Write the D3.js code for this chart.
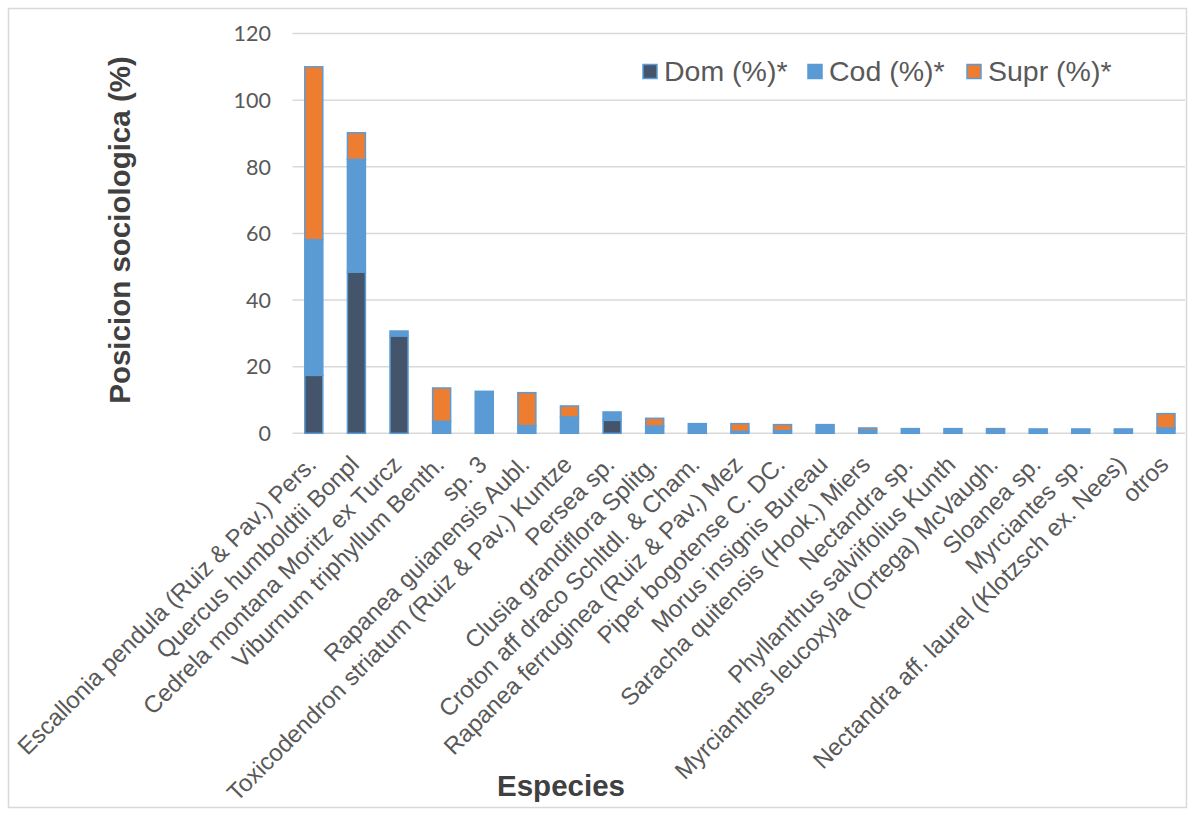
<!DOCTYPE html>
<html><head><meta charset="utf-8">
<script src="https://cdn.jsdelivr.net/npm/d3@7"></script>
<style>html,body{margin:0;padding:0;background:#fff;}</style>
</head><body>
<svg id="chart" width="1195" height="816"></svg>
<script>
const categories = [
  "Escallonia pendula (Ruiz & Pav.) Pers.",
  "Quercus humboldtii Bonpl",
  "Cedrela montana Moritz ex Turcz",
  "Viburnum triphyllum Benth.",
  "sp. 3",
  "Rapanea guianensis Aubl.",
  "Toxicodendron striatum (Ruiz & Pav.) Kuntze",
  "Persea sp.",
  "Clusia grandiflora Splitg.",
  "Croton aff draco Schltdl. & Cham.",
  "Rapanea ferruginea (Ruiz & Pav.) Mez",
  "Piper bogotense C. DC.",
  "Morus insignis Bureau",
  "Saracha quitensis (Hook.) Miers",
  "Nectandra sp.",
  "Phyllanthus salviifolius Kunth",
  "Myrcianthes leucoxyla (Ortega) McVaugh.",
  "Sloanea sp.",
  "Myrciantes sp.",
  "Nectandra aff. laurel (Klotzsch ex. Nees)",
  "otros"
];
const dom  = [17.4, 48.4, 29.2, 0, 0, 0, 0, 3.9, 0, 0, 0, 0, 0, 0, 0, 0, 0, 0, 0, 0, 0];
const cod  = [40.7, 33.8, 1.5, 3.6, 12.6, 2.3, 4.9, 2.5, 2.2, 2.9, 0.6, 0.8, 2.6, 0.9, 1.4, 1.4, 0.9, 1.3, 0.9, 0.9, 1.6];
const supr = [51.9, 8.0, 0, 10.0, 0, 9.9, 3.3, 0, 2.3, 0, 2.3, 1.8, 0, 0.7, 0, 0, 0.5, 0, 0.4, 0.4, 4.3];
const seriesNames = ["Dom (%)*", "Cod (%)*", "Supr (%)*"];
const seriesColors = ["#44546A", "#5B9BD5", "#ED7D31"];
const yTicks = [0, 20, 40, 60, 80, 100, 120];

const svg = d3.select("#chart");
// chart border
svg.append("rect").attr("x", 8.5).attr("y", 8.5).attr("width", 1178).attr("height", 799)
  .attr("fill", "none").attr("stroke", "#D9D9D9").attr("stroke-width", 1.5);

const pLeft = 292.5, pRight = 1187.3, pTop = 33.5, pBottom = 433.3;
const x = d3.scaleBand().domain(categories).range([pLeft, pRight]).padding(0);
const y = d3.scaleLinear().domain([0, 120]).range([pBottom, pTop]);

// gridlines
svg.append("g").selectAll("line").data(yTicks).join("line")
  .attr("x1", pLeft).attr("x2", 1185)
  .attr("y1", d => y(d)).attr("y2", d => y(d))
  .attr("stroke", "#D9D9D9").attr("stroke-width", 1.5);

// y tick labels
svg.append("g").selectAll("text").data(yTicks).join("text")
  .attr("x", 271).attr("y", d => y(d)).attr("dy", "0.36em")
  .attr("text-anchor", "end")
  .attr("font-family", "Lato, 'Open Sans', sans-serif").attr("font-size", 21.5)
  .attr("fill", "#595959").text(d => d);

// stacked data
const table = categories.map((c, i) => ({cat: c, Dom: dom[i], Cod: cod[i], Supr: supr[i]}));
const stack = d3.stack().keys(["Dom", "Cod", "Supr"])(table);
const barW = 18;
stack.forEach((layer, k) => {
  svg.append("g").selectAll("rect").data(layer.filter(d => d[1] - d[0] > 0)).join("rect")
    .attr("x", d => x(d.data.cat) + x.bandwidth() / 2 - barW / 2)
    .attr("width", barW)
    .attr("y", d => y(d[1]))
    .attr("height", d => y(d[0]) - y(d[1]))
    .attr("fill", seriesColors[k])
    .attr("stroke", "#5B9BD5").attr("stroke-width", 1.5);
});

// category labels
svg.append("g").selectAll("text").data(categories).join("text")
  .attr("transform", d => `translate(${x(d) + x.bandwidth() / 2 + 4},${466}) rotate(-45)`)
  .attr("text-anchor", "end")
  .attr("font-family", "'Liberation Sans', Arial, sans-serif").attr("font-size", 24)
  .attr("fill", "#595959").text(d => d);

// axis titles
svg.append("text").attr("transform", "translate(130,230) rotate(-90)")
  .attr("text-anchor", "middle")
  .attr("font-family", "'Liberation Sans', Arial, sans-serif").attr("font-size", 29.5)
  .attr("font-weight", "bold").attr("fill", "#404040").text("Posicion sociologica (%)");
svg.append("text").attr("x", 561).attr("y", 796)
  .attr("text-anchor", "middle")
  .attr("font-family", "'Liberation Sans', Arial, sans-serif").attr("font-size", 29.5)
  .attr("font-weight", "bold").attr("fill", "#404040").text("Especies");

// legend
const legendX = [643, 808, 967];
const lg = svg.append("g");
seriesNames.forEach((n, i) => {
  lg.append("rect").attr("x", legendX[i]).attr("y", 64.5).attr("width", 14).attr("height", 14)
    .attr("fill", seriesColors[i]).attr("stroke", "#5B9BD5").attr("stroke-width", 1.5);
  lg.append("text").attr("x", legendX[i] + 21).attr("y", 80.5)
    .attr("font-family", "'Liberation Sans', Arial, sans-serif").attr("font-size", 28.5)
    .attr("fill", "#595959").text(n);
});
</script>
</body></html>
